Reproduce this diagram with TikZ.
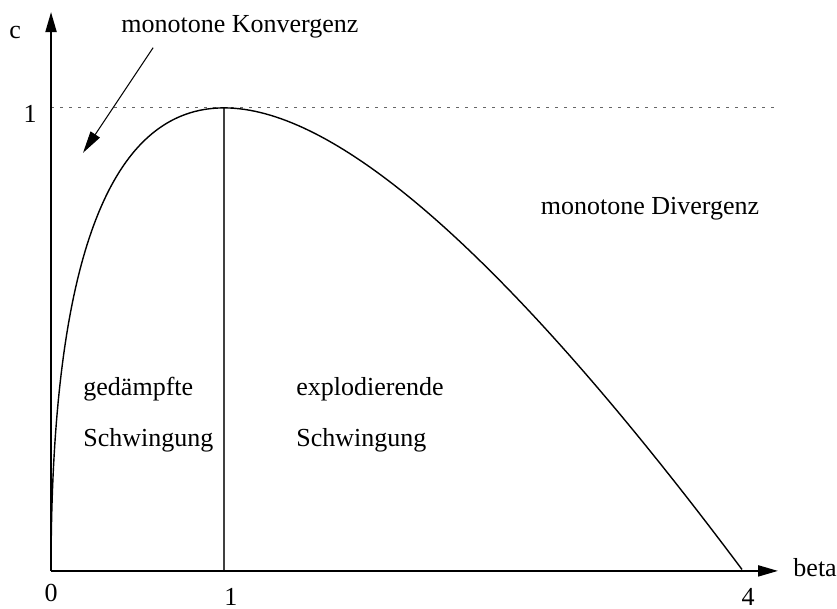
\documentclass[tikz,border=0pt]{standalone}
\usepackage{fontspec}
\setmainfont{Liberation Serif}
\usetikzlibrary{arrows.meta,positioning,calc}
\tikzset{
  axis/.style={draw=black, line width=1pt, -{Triangle[length=10pt,width=5.5pt]}},
  guide/.style={draw=black!60, line width=0.6pt, dash pattern=on 1.5pt off 3pt},
  divider/.style={draw=black!75, line width=0.6pt},
  pointer/.style={draw=black, line width=0.5pt, -{Triangle[length=11pt,width=5.5pt]}},
  curve/.style={draw=black, line width=0.7pt},
  lbl/.style={inner sep=0pt, font=\fontsize{13}{15}\selectfont},
}
\begin{document}
\begin{tikzpicture}[x=86.5pt, y=231.5pt]
\useasboundingbox (-0.295,-0.082) rectangle (4.543,1.233);

\coordinate (O) at (0,0);
\coordinate (xEnd) at (4.202,0);
\coordinate (yEnd) at (0,1.207);
\coordinate (topL) at (0,1);
\coordinate (topR) at (4.202,1);
\coordinate (peak) at (1,1);
\coordinate (peakFoot) at (1,0);
\coordinate (konvFrom) at (0.590,1.130);
\coordinate (konvTo) at (0.185,0.903);

\draw[guide] (topL) -- (topR);
\draw[divider] (peakFoot) -- (peak);
\draw[curve] plot[domain=0:2, samples=150, variable=\t] ({\t*\t},{2*\t-\t*\t});
\draw[axis] (O) -- (xEnd);
\draw[axis] (O) -- (yEnd);
\draw[pointer] (konvFrom) -- (konvTo);

\node[lbl, anchor=base] (cLbl) at (-0.208,1.149) {c};
\node[lbl, anchor=base west] (betaLbl) at (4.289,-0.013) {beta};
\node[lbl, anchor=base] (yOne) at (-0.121,0.968) {1};
\node[lbl, anchor=base] (xZero) at (0,-0.067) {0};
\node[lbl, anchor=base] (xOne) at (1.040,-0.075) {1};
\node[lbl, anchor=base] (xFour) at (4.029,-0.075) {4};

\node[lbl, anchor=base] (konv) at (1.092,1.162) {monotone Konvergenz};
\node[lbl, anchor=base] (div) at (3.462,0.769) {monotone Divergenz};
\node[lbl, anchor=base west] (ged) at (0.185,0.378) {gedämpfte};
\node[lbl, anchor=base west] (gedS) at (0.185,0.268) {Schwingung};
\node[lbl, anchor=base west] (expl) at (1.416,0.378) {explodierende};
\node[lbl, anchor=base west] (explS) at (1.416,0.268) {Schwingung};
\end{tikzpicture}
\end{document}
